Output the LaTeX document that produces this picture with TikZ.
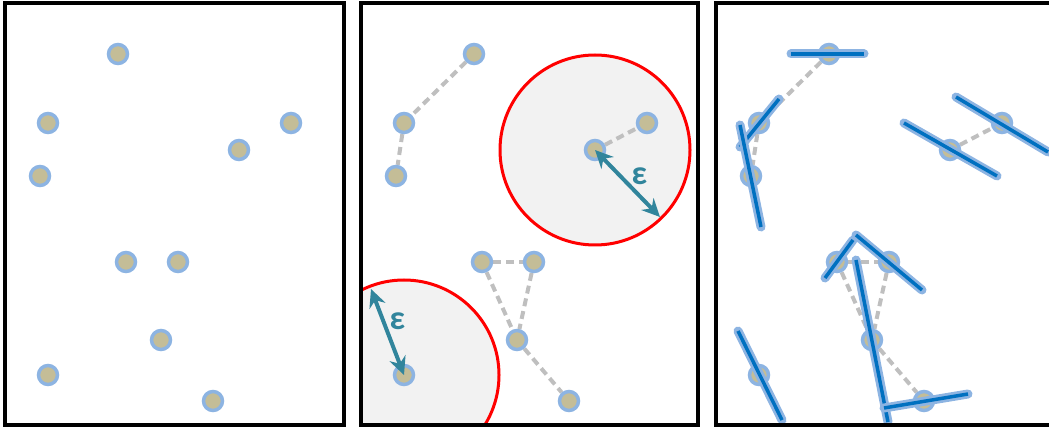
\documentclass[tikz,border=0pt]{standalone}
\usepackage{fontspec}
\newfontfamily\epsfont{Carlito}
\usetikzlibrary{arrows.meta, calc}

\pgfdeclarelayer{back}
\pgfdeclarelayer{links}
\pgfsetlayers{back,links,main}

\definecolor{pointfill}{HTML}{C4BD97}
\definecolor{pointedge}{HTML}{8DB4E2}
\definecolor{linkgray}{HTML}{BFBFBF}
\definecolor{zonefill}{HTML}{F2F2F2}
\definecolor{epsteal}{HTML}{31859C}
\definecolor{dirblue}{HTML}{0070C0}
\definecolor{haloblue}{HTML}{8DB4E2}

\begin{document}
\begin{tikzpicture}[
    x=1pt,
    y=-1pt,
    >=Stealth,
    panel/.style={line width=3.5pt, black},
    point/.style={circle, fill=pointfill, draw=pointedge, line width=3.5pt,
                  minimum size=19pt, inner sep=0pt},
    link/.style={dash pattern=on 8pt off 5pt, line width=4pt, linkgray},
    zone/.style={draw=red, fill=zonefill, line width=3pt},
    epsarrow/.style={epsteal, line width=4pt,
                     {Stealth[length=18pt, width=17pt, inset=6pt]}-{Stealth[length=18pt, width=17pt, inset=6pt]}},
    epslabel/.style={epsteal, font=\epsfont\bfseries\fontsize{34}{34}\selectfont, inner sep=0pt},
    orient/.style={dirblue, line width=3.5pt,
                   preaction={draw=haloblue, line width=9pt, line cap=round}}
]

\useasboundingbox (0,0) rectangle (1049,427);
\clip (0,0) rectangle (1049,427);

% Panel offsets
\def\dB{356}
\def\dC{711}

% =========================
% Points (same in all panels)
% =========================
\foreach \n/\px/\py in {1/118/54, 2/48/123, 3/291/123, 4/239/150, 5/40/176,
                        6/126/262, 7/178/262, 8/161/340, 9/48/375, 10/213/401} {
    \node[point] (a\n) at (\px,\py) {};
    \node[point] (b\n) at (\px+\dB,\py) {};
    \node[point] (c\n) at (\px+\dC,\py) {};
}

% Neighbour links
\begin{pgfonlayer}{links}
\foreach \p in {b,c} {
    \foreach \s/\t in {1/2, 2/5, 4/3, 6/7, 6/8, 7/8, 8/10}
        \draw[link] (\p\s) -- (\p\t);
}
\end{pgfonlayer}

% =========================
% Epsilon neighbourhoods
% =========================
\begin{pgfonlayer}{back}
\begin{scope}
    \clip (361,3) rectangle (698,425);
    \draw[zone] (b4) circle[radius=95];
    \draw[zone] (b9) circle[radius=95];
\end{scope}
\end{pgfonlayer}

\draw[epsarrow] (b4.center) -- ($(b4)+(65,67)$)
    node[epslabel, midway, xshift=12, yshift=7] (eps1) {ε};
\draw[epsarrow] (b9.center) -- ($(b9)+(-33,-86)$)
    node[epslabel, midway, xshift=10, yshift=11] (eps2) {ε};

% =========================
% Orientation segments
% =========================
\foreach \n/\ax/\ay/\bx/\by in {1/-38/0/35/0, 2/-19/24/20/-24, 5/-11/-51/10/51,
                                4/-46/-27/47/26, 3/-46/-26/46/29, 6/-12/16/16/-22,
                                7/-33/-27/33/28, 8/-16/-80/16/82, 9/-21/-44/23/45,
                                10/-40/7/44/-7}
    \draw[orient] ($(c\n)+(\ax,\ay)$) -- ($(c\n)+(\bx,\by)$);

% Panel frames
\draw[panel] (5,3) rectangle (344,425);
\draw[panel] (361,3) rectangle (698,425);
\draw[panel] (716,3) rectangle (1060,425);

\end{tikzpicture}
\end{document}
